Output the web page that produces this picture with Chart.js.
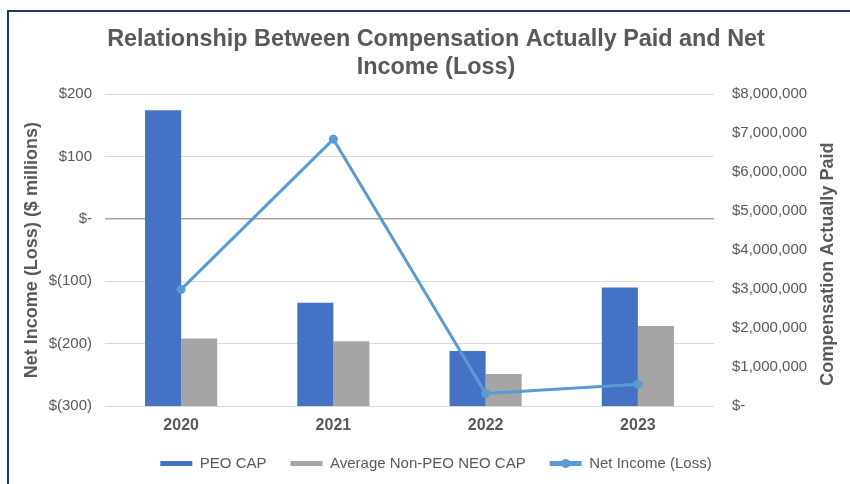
<!DOCTYPE html>
<html>
<head>
<meta charset="utf-8">
<script src="https://cdn.jsdelivr.net/npm/chart.js@4.4.0/dist/chart.umd.min.js"></script>
<style>
    html, body { margin: 0; padding: 0; background: #fff; }
    #wrap { position: relative; width: 850px; height: 484px; overflow: hidden; }
    #frame { position: absolute; left: 7px; top: 10px; width: 900px; height: 500px;
             border-top: 2px solid #1f3468; border-left: 2px solid #1f3468; }
    #cap_chart { position: absolute; left: 0; top: 0; }
</style>
</head>
<body>
<div id="wrap">
    <div id="frame"></div>
    <canvas id="cap_chart" width="850" height="484"></canvas>
</div>
<script>
    var years = ['2020', '2021', '2022', '2023'];
    var peoCap = [7590000, 2650000, 1410000, 3040000];
    var neoCap = [1730000, 1660000, 820000, 2050000];
    var netIncome = [-113, 128, -280, -265];

    var textGray = '#595959';
    var fontFam = '"Liberation Sans", Arial, sans-serif';

    function money(v) {
        if (v == 0) return '$-';
        if (v < 0) return '$(' + Math.abs(v).toLocaleString('en-US') + ')';
        return '$' + v.toLocaleString('en-US');
    }

    // dot on the line legend item + right axis title read bottom to top
    var extras = {
        id: 'extras',
        afterDraw: function (chart) {
            var ctx = chart.ctx;
            var box = chart.legend.legendHitBoxes[2];
            ctx.save();
            if (box) {
                ctx.fillStyle = '#5b9bd5';
                ctx.beginPath();
                ctx.arc(box.left + 16, box.top + box.height / 2, 4.5, 0, Math.PI * 2);
                ctx.fill();
            }
            var yr = chart.scales.yR;
            ctx.translate(yr.right - 22, (chart.chartArea.top + chart.chartArea.bottom) / 2 + 14);
            ctx.rotate(-Math.PI / 2);
            ctx.fillStyle = textGray;
            ctx.font = 'bold 18px ' + fontFam;
            ctx.textAlign = 'center';
            ctx.textBaseline = 'middle';
            ctx.fillText('Compensation Actually Paid', 0, 0);
            ctx.restore();
        }
    };

    new Chart(document.getElementById('cap_chart').getContext('2d'), {
        type: 'bar',
        data: {
            labels: years,
            datasets: [{
                label: 'PEO CAP',
                data: peoCap,
                backgroundColor: '#4472c4',
                yAxisID: 'yR',
                order: 1
            }, {
                label: 'Average Non-PEO NEO CAP',
                data: neoCap,
                backgroundColor: '#a5a5a5',
                yAxisID: 'yR',
                order: 1
            }, {
                type: 'line',
                label: 'Net Income (Loss)',
                data: netIncome,
                borderColor: '#5b9bd5',
                backgroundColor: '#5b9bd5',
                borderWidth: 3,
                pointRadius: 4.5,
                pointBackgroundColor: '#5b9bd5',
                pointBorderWidth: 0,
                tension: 0,
                yAxisID: 'yL',
                order: 0
            }]
        },
        options: {
            responsive: false,
            animation: false,
            layout: {padding: {left: 22, right: 0, top: 12, bottom: 3}},
            datasets: {bar: {barPercentage: 1, categoryPercentage: 0.474}},
            plugins: {
                title: {
                    display: true,
                    text: ['Relationship Between Compensation Actually Paid and Net', 'Income (Loss)'],
                    color: textGray,
                    font: {family: fontFam, size: 23.4, weight: 'bold', lineHeight: 1.17},
                    padding: {top: 14, bottom: 13.5}
                },
                legend: {
                    position: 'bottom',
                    labels: {
                        color: textGray,
                        font: {family: fontFam, size: 15},
                        boxWidth: 32,
                        boxHeight: 5,
                        padding: 24,
                        sort: function (a, b) { return a.datasetIndex - b.datasetIndex; },
                        generateLabels: function (chart) {
                            var items = Chart.defaults.plugins.legend.labels.generateLabels(chart);
                            items.forEach(function (it) { it.lineWidth = 0; });
                            return items;
                        }
                    }
                },
                tooltip: {enabled: false}
            },
            scales: {
                x: {
                    grid: {display: false, drawTicks: false},
                    border: {display: false},
                    ticks: {color: textGray, font: {family: fontFam, size: 16, weight: 'bold'}, padding: 10},
                    afterFit: function (scale) { scale.height = 26; }
                },
                yL: {
                    position: 'left',
                    min: -300,
                    max: 200,
                    border: {display: false},
                    grid: {
                        drawTicks: false,
                        color: function (c) { return c.tick && c.tick.value == 0 ? '#a6a6a6' : '#d9d9d9'; },
                        lineWidth: function (c) { return c.tick && c.tick.value == 0 ? 1.5 : 1; }
                    },
                    ticks: {
                        stepSize: 100,
                        color: textGray,
                        font: {family: fontFam, size: 15},
                        padding: 13,
                        callback: function (v) { return money(v); }
                    },
                    title: {
                        display: true,
                        text: 'Net Income (Loss) ($ millions)',
                        color: textGray,
                        font: {family: fontFam, size: 18, weight: 'bold'},
                        padding: {top: -1, bottom: 3}
                    },
                    afterFit: function (scale) { scale.width = 83; }
                },
                yR: {
                    position: 'right',
                    min: 0,
                    max: 8000000,
                    border: {display: false},
                    grid: {display: false, drawTicks: false},
                    ticks: {
                        stepSize: 1000000,
                        color: textGray,
                        font: {family: fontFam, size: 15},
                        padding: 18,
                        callback: function (v) { return money(v); }
                    },
                    afterFit: function (scale) { scale.width = 136; }
                }
            }
        },
        plugins: [extras]
    });
</script>
</body>
</html>
